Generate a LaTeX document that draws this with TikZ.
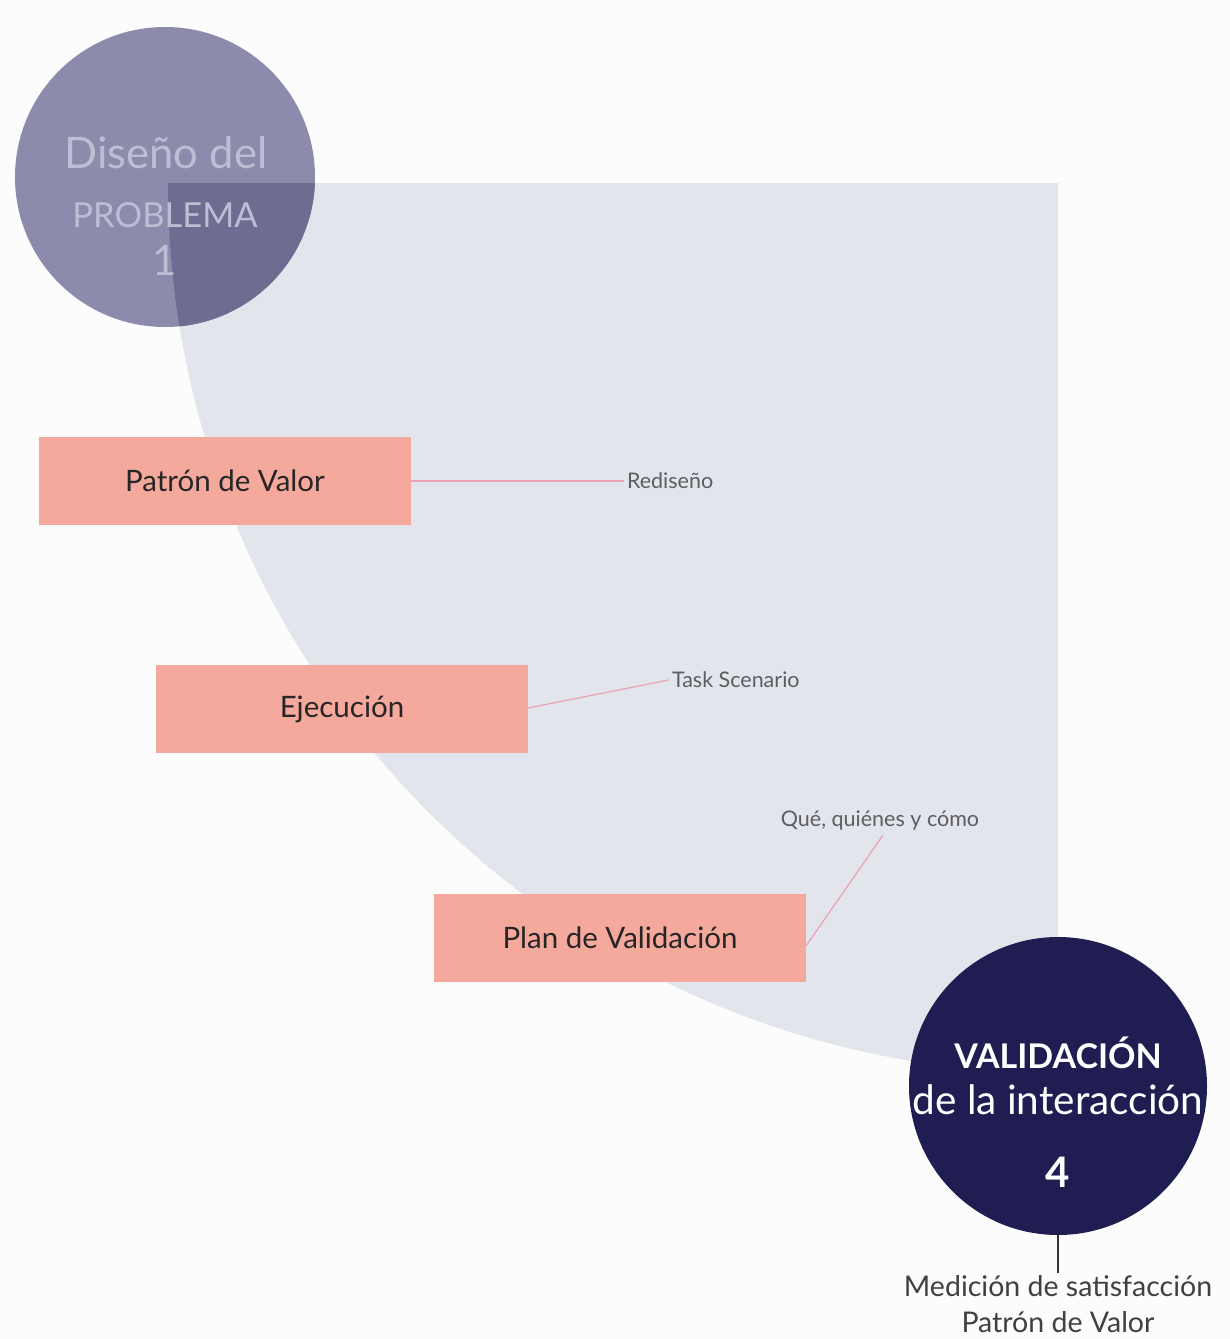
\documentclass[tikz,border=0pt]{standalone}
\usepackage{fontspec}
\setmainfont{Lato}
\definecolor{bgsector}{HTML}{E3E5EC}
\definecolor{circA}{HTML}{8C8BAB}
\definecolor{circB}{HTML}{6E6C90}
\definecolor{circtxt}{HTML}{BEBDD4}
\definecolor{boxfill}{HTML}{F5A89C}
\definecolor{conn}{HTML}{EBA3B2}
\definecolor{navy}{HTML}{1F1D52}
\definecolor{lbl}{HTML}{5E5E62}
\begin{document}
\begin{tikzpicture}[x=1pt,y=-1pt,
  stepbox/.style={fill=boxfill, minimum width=372pt, minimum height=88pt, inner sep=0pt, font=\fontsize{29.5}{32}\selectfont, text=black!85},
  conline/.style={draw=conn, line width=1.2pt},
  smalllbl/.style={font=\fontsize{21.5}{24}\selectfont, text=lbl, inner sep=0pt, outer sep=3pt},
  ]
\useasboundingbox (0,0) rectangle (1230,1339);
\fill[white!99!black] (0,0) rectangle (1230,1339);
% background sector
\begin{scope}
\clip (168,183) rectangle (1058,1073);
\fill[bgsector] (1058,183) circle[radius=890pt];
\end{scope}
% top circle
\fill[circA] (165,177) circle[radius=150pt];
\begin{scope}
\clip (168,183) rectangle (1058,1073);
\clip (1058,183) circle[radius=890pt];
\fill[circB] (165,177) circle[radius=150pt];
\end{scope}
\node[font=\fontsize{43.5}{46}\selectfont, text=circtxt, inner sep=0pt] (t1a) at (166,153) {Diseño del};
\node[font=\fontsize{34.5}{38}\selectfont, text=circtxt, inner sep=0pt] (t1b) at (165,215) {PROBLEMA};
\node[font=\fontsize{42}{46}\selectfont, text=circtxt, inner sep=0pt] (t1c) at (165,260) {1};
% boxes
\node[stepbox] (b1) at (225,481) {Patrón de Valor};
\node[stepbox] (b2) at (342,709) {Ejecución};
\node[stepbox] (b3) at (620,938) {Plan de Validación};
% labels
\node[smalllbl, anchor=west] (l1) at (624,481) {Rediseño};
\node[smalllbl, anchor=west] (l2) at (669,680) {Task Scenario};
\node[smalllbl] (l3) at (880,820) {Qué, quiénes y cómo};
\coordinate (l3c) at (883,835);
\coordinate (b3c) at (806,946);
\coordinate (b2c) at (528,708);
\draw[conline] (b1.east) -- (l1.west);
\draw[conline] (b2c) -- (l2.west);
\draw[conline] (b3c) -- (l3c);
% bottom circle
\node[circle, fill=navy, minimum size=298pt, inner sep=0pt] (c4) at (1058,1086) {};
\node[font=\fontsize{34}{38}\selectfont\bfseries, text=white, inner sep=0pt] (t4a) at (1058,1053) {VALIDACIÓN};
\node[font=\fontsize{40.5}{44}\selectfont, text=white, inner sep=0pt] (t4b) at (1058,1100) {de la interacción};
\node[font=\fontsize{28.5}{36}\selectfont, text=black!75, align=center, inner sep=0pt, anchor=north] (t5) at (1058,1275) {Medición de satisfacción\\Patrón de Valor};
\node[font=\fontsize{42}{46}\selectfont\bfseries, text=white, inner sep=0pt] (t4c) at (1058,1172) {4};
\draw[black!80, line width=1.5pt] (c4.south) -- ([yshift=2pt]c4.south |- t5.north);
\end{tikzpicture}
\end{document}
